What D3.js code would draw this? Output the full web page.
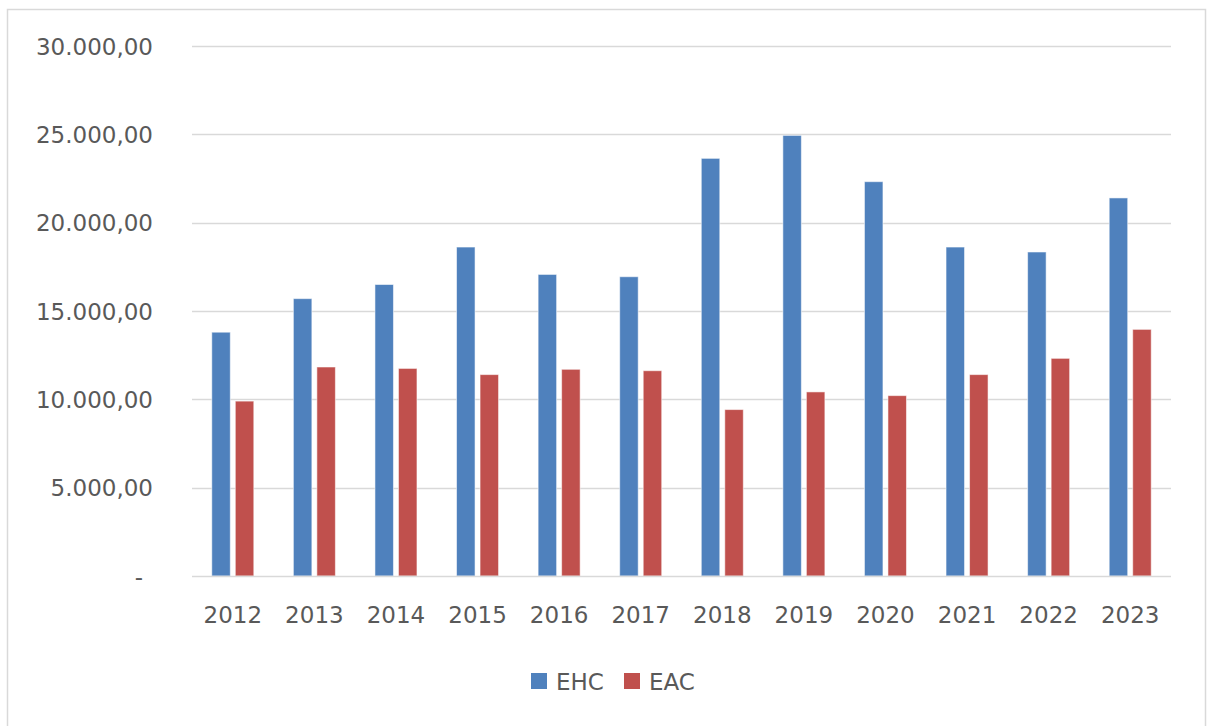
<!DOCTYPE html>
<html>
<head>
<meta charset="utf-8">
<script src="https://cdn.jsdelivr.net/npm/d3@7"></script>
<style>
  html, body { margin: 0; padding: 0; background: #fff; }
  svg { display: block; }
  text { font-family: "DejaVu Sans", sans-serif; fill: #595959; }
</style>
</head>
<body>
<svg id="chart" width="1208" height="726"></svg>
<script>
// Yearly values for the two series
const years = ["2012", "2013", "2014", "2015", "2016", "2017", "2018", "2019", "2020", "2021", "2022", "2023"];
const ehc = [13800, 15700, 16500, 18620, 17070, 16940, 23640, 24940, 22320, 18620, 18340, 21400];
const eac = [9900, 11830, 11750, 11400, 11700, 11620, 9420, 10420, 10210, 11400, 12320, 13960];
const seriesNames = ["EHC", "EAC"];
const seriesColors = ["#4f81bd", "#c0504d"];
const yTicks = [0, 5000, 10000, 15000, 20000, 25000, 30000];

const svg = d3.select("#chart");
const W = 1208, H = 726;
const plot = { left: 192, right: 1171, top: 46, bottom: 576 };

// Outer chart frame
svg.append("rect")
  .attr("x", 7.5).attr("y", 9.5)
  .attr("width", W - 10).attr("height", H + 20)
  .attr("fill", "#fff").attr("stroke", "#d9d9d9").attr("stroke-width", 1.5);

const y = d3.scaleLinear().domain([0, 30000]).range([plot.bottom, plot.top]);

const x0 = d3.scaleBand().domain(years)
  .range([plot.left, plot.right])
  .paddingInner(0.485).paddingOuter(0.2425);

const x1 = d3.scaleBand().domain(seriesNames)
  .range([0, x0.bandwidth()])
  .paddingInner(0.213).paddingOuter(0);

// Horizontal gridlines
svg.append("g")
  .selectAll("line")
  .data(yTicks.filter(d => d > 0))
  .join("line")
  .attr("x1", plot.left).attr("x2", plot.right)
  .attr("y1", d => Math.round(y(d)) + 0.5).attr("y2", d => Math.round(y(d)) + 0.5)
  .attr("stroke", "#d9d9d9").attr("stroke-width", 1.5);

// Y axis labels (accounting style, dash for zero)
const fmt = d3.formatLocale({ decimal: ",", thousands: ".", grouping: [3], currency: ["", ""] }).format(",.2f");
const yAxis = d3.axisLeft(y).tickValues(yTicks).tickSize(0).tickPadding(0)
  .tickFormat(d => d === 0 ? "-" : fmt(d));
const yg = svg.append("g").attr("transform", `translate(153,0)`).call(yAxis);
yg.select(".domain").remove();
yg.selectAll("text")
  .style("font-family", "DejaVu Sans, sans-serif")
  .style("font-size", "23px")
  .attr("fill", "#595959")
  .attr("dy", "0.36em");
yg.selectAll(".tick").filter(d => d === 0).select("text").attr("x", -10);

// Bars
const groups = svg.append("g")
  .selectAll("g")
  .data(years.map((yr, i) => ({ yr, vals: [ehc[i], eac[i]] })))
  .join("g")
  .attr("transform", d => `translate(${x0(d.yr)},0)`);

groups.selectAll("rect")
  .data(d => d.vals.map((v, k) => ({ name: seriesNames[k], v, k })))
  .join("rect")
  .attr("x", d => x1(d.name))
  .attr("width", x1.bandwidth())
  .attr("y", d => y(d.v))
  .attr("height", d => y(0) - y(d.v))
  .attr("fill", d => seriesColors[d.k])
  .attr("stroke", "rgba(255,255,255,0.55)")
  .attr("stroke-width", 1);

// Category axis baseline
svg.append("line")
  .attr("x1", plot.left).attr("x2", plot.right)
  .attr("y1", plot.bottom + 0.5).attr("y2", plot.bottom + 0.5)
  .attr("stroke", "#d9d9d9").attr("stroke-width", 1.5);

// X axis labels
const xAxis = d3.axisBottom(x0).tickSize(0).tickPadding(0);
const xg = svg.append("g").attr("transform", `translate(0,${plot.bottom})`).call(xAxis);
xg.select(".domain").remove();
xg.selectAll("text")
  .style("font-family", "DejaVu Sans, sans-serif")
  .style("font-size", "23px")
  .attr("fill", "#595959")
  .attr("y", 47).attr("dy", 0);

// Legend
const legendItems = [
  { name: "EHC", color: seriesColors[0], x: 531 },
  { name: "EAC", color: seriesColors[1], x: 624 }
];
const lg = svg.append("g");
legendItems.forEach(it => {
  lg.append("rect")
    .attr("x", it.x).attr("y", 673)
    .attr("width", 16).attr("height", 16)
    .attr("fill", it.color);
  lg.append("text")
    .attr("x", it.x + 25).attr("y", 690)
    .style("font-size", "23px")
    .text(it.name);
});
</script>
</body>
</html>
